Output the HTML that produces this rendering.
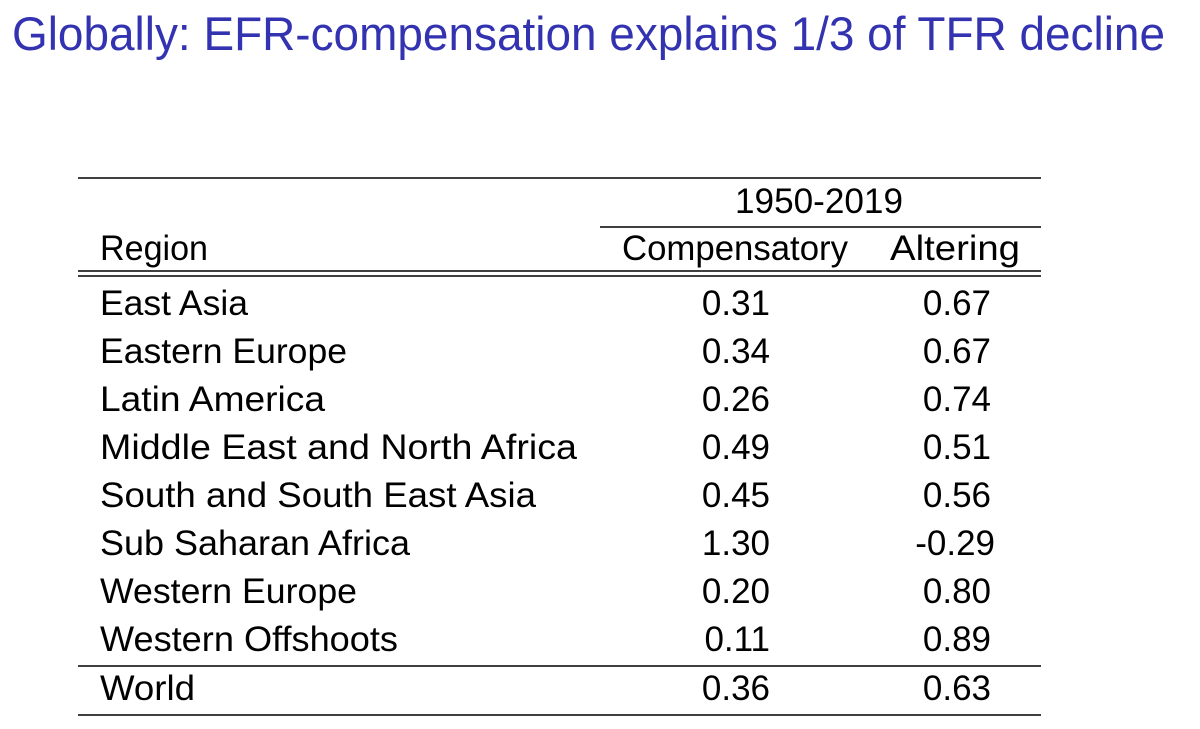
<!DOCTYPE html>
<html><head><meta charset="utf-8"><style>
html,body{margin:0;padding:0;background:#fff;}
svg{display:block;}
text{font-family:"Liberation Sans",sans-serif;}
</style></head><body>
<svg width="1200" height="729" viewBox="0 0 1200 729" xmlns="http://www.w3.org/2000/svg">
<text x="12" y="50" font-size="47" fill="#3333b2" textLength="1153" lengthAdjust="spacingAndGlyphs">Globally: EFR-compensation explains 1/3 of TFR decline</text>
<g stroke="#000" stroke-width="1.6">
<line x1="78" y1="178" x2="1041" y2="178"/>
<line x1="600" y1="227" x2="1041" y2="227"/>
<line x1="78" y1="271" x2="1041" y2="271"/>
<line x1="78" y1="276" x2="1041" y2="276"/>
<line x1="78" y1="666" x2="1041" y2="666"/>
<line x1="78" y1="715" x2="1041" y2="715"/>
</g>
<g font-size="35" fill="#000" lengthAdjust="spacingAndGlyphs">
<text x="735" y="213" textLength="168" lengthAdjust="spacingAndGlyphs">1950-2019</text>
<text x="100" y="260" textLength="108" lengthAdjust="spacingAndGlyphs">Region</text>
<text x="622" y="260" textLength="226" lengthAdjust="spacingAndGlyphs">Compensatory</text>
<text x="890" y="260" textLength="130" lengthAdjust="spacingAndGlyphs">Altering</text>
<text x="100" y="315" textLength="148" lengthAdjust="spacingAndGlyphs">East Asia</text>
<text x="100" y="363" textLength="247" lengthAdjust="spacingAndGlyphs">Eastern Europe</text>
<text x="100" y="411" textLength="225" lengthAdjust="spacingAndGlyphs">Latin America</text>
<text x="100" y="459" textLength="477" lengthAdjust="spacingAndGlyphs">Middle East and North Africa</text>
<text x="100" y="507" textLength="436" lengthAdjust="spacingAndGlyphs">South and South East Asia</text>
<text x="100" y="555" textLength="310" lengthAdjust="spacingAndGlyphs">Sub Saharan Africa</text>
<text x="100" y="603" textLength="257" lengthAdjust="spacingAndGlyphs">Western Europe</text>
<text x="100" y="651" textLength="298" lengthAdjust="spacingAndGlyphs">Western Offshoots</text>
<text x="100" y="700" textLength="95" lengthAdjust="spacingAndGlyphs">World</text>
</g>
<g font-size="35" fill="#000" text-anchor="end">
<text x="770" y="315">0.31</text><text x="991" y="315">0.67</text>
<text x="770" y="363">0.34</text><text x="991" y="363">0.67</text>
<text x="770" y="411">0.26</text><text x="991" y="411">0.74</text>
<text x="770" y="459">0.49</text><text x="991" y="459">0.51</text>
<text x="770" y="507">0.45</text><text x="991" y="507">0.56</text>
<text x="770" y="555">1.30</text><text x="995" y="555">-0.29</text>
<text x="770" y="603">0.20</text><text x="991" y="603">0.80</text>
<text x="770" y="651">0.11</text><text x="991" y="651">0.89</text>
<text x="770" y="700">0.36</text><text x="991" y="700">0.63</text>
</g>
</svg>
</body></html>
